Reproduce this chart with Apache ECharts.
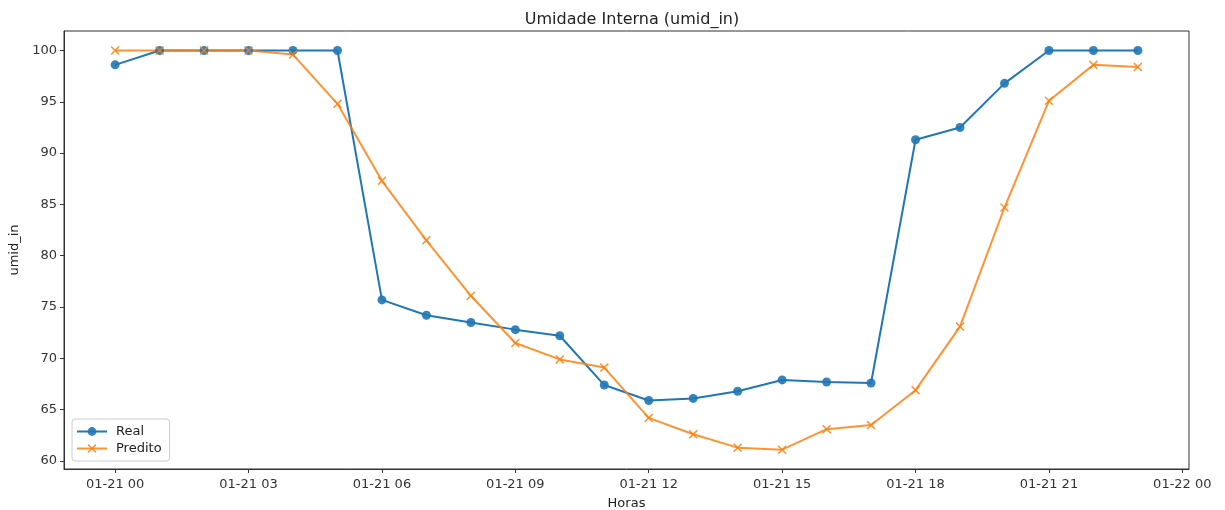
<!DOCTYPE html>
<html><head><meta charset="utf-8">
<script src="https://cdn.jsdelivr.net/npm/echarts@6/dist/echarts.min.js"></script>
<style>html,body{margin:0;padding:0;background:#fff}#c{width:1225px;height:510px}</style>
</head><body><div id="c"></div>
<script>
const hours = [0,1,2,3,4,5,6,7,8,9,10,11,12,13,14,15,16,17,18,19,20,21,22,23];
const real = [98.6,100,100,100,100,100,75.7,74.2,73.5,72.8,72.2,67.4,65.9,66.1,66.8,67.9,67.7,67.6,91.3,92.5,96.8,100,100,100];
const predito = [100,100,100,100,99.6,94.8,87.3,81.5,76.1,71.5,69.9,69.1,64.2,62.6,61.3,61.1,63.1,63.5,66.9,73.1,84.7,95.1,98.6,98.4];
const xTickValues = [0,3,6,9,12,15,18,21,24];
const xTickLabels = ['01-21 00','01-21 03','01-21 06','01-21 09','01-21 12','01-21 15','01-21 18','01-21 21','01-22 00'];
const yTickValues = [60,65,70,75,80,85,90,95,100];

const FONT = 'DejaVu Sans';
const FS = 13;
const X_PATH = 'path://M0,1.2L1.2,0L5,3.8L8.8,0L10,1.2L6.2,5L10,8.8L8.8,10L5,6.2L1.2,10L0,8.8L3.8,5Z';
const chart = echarts.init(document.getElementById('c'));
const axisCommon = {
  axisLine: {show: true, onZero: false, lineStyle: {color: '#333', width: 1}},
  splitLine: {show: false}
};
chart.setOption({
  animation: false,
  title: {text: 'Umidade Interna (umid_in)', left: 627, top: 7, textAlign: 'center',
    textStyle: {fontFamily: FONT, fontSize: 16, fontWeight: 'normal', color: '#222'}},
  grid: {left: 64, right: 36, top: 31, bottom: 41, show: true, borderColor: '#333', borderWidth: 1,
    outerBoundsMode: 'none', containLabel: false},
  legend: {
    orient: 'vertical', left: 72, top: 419, itemWidth: 30, itemHeight: 11, itemGap: 4,
    padding: [6, 8, 6, 4], borderColor: '#ccc', borderWidth: 1, borderRadius: 3,
    backgroundColor: 'rgba(255,255,255,0.8)',
    textStyle: {fontFamily: FONT, fontSize: FS, color: '#222', padding: [0, 0, 0, 4]},
    data: ['Real', 'Predito']
  },
  xAxis: Object.assign({}, axisCommon, {
    type: 'value', min: -1.15, max: 24.15,
    name: 'Horas', nameLocation: 'middle', nameGap: 28,
    nameTextStyle: {fontFamily: FONT, fontSize: FS, color: '#222'},
    axisTick: {show: true, length: 4, lineStyle: {color: '#333'}, customValues: xTickValues},
    axisLabel: {color: '#333', fontFamily: FONT, fontSize: FS, margin: 9, customValues: xTickValues,
      formatter: v => xTickLabels[xTickValues.indexOf(v)]}
  }),
  yAxis: Object.assign({}, axisCommon, {
    type: 'value', min: 59.22, max: 101.9,
    name: 'umid_in', nameLocation: 'middle', nameGap: 41,
    nameTextStyle: {fontFamily: FONT, fontSize: FS, color: '#222'},
    axisTick: {show: true, length: 4, lineStyle: {color: '#333'}, customValues: yTickValues},
    axisLabel: {color: '#333', fontFamily: FONT, fontSize: FS, margin: 7, customValues: yTickValues}
  }),
  series: [
    {name: 'Real', type: 'line', data: hours.map((h, i) => [h, real[i]]),
      symbol: 'circle', symbolSize: 9, showAllSymbol: true,
      lineStyle: {color: '#1f77b4', width: 2}, itemStyle: {color: '#1f77b4', opacity: 0.9}, color: '#1f77b4'},
    {name: 'Predito', type: 'line', data: hours.map((h, i) => [h, predito[i]]),
      symbol: X_PATH, symbolSize: 9, showAllSymbol: true,
      lineStyle: {color: '#ff7f0e', width: 2, opacity: 0.85}, itemStyle: {color: '#ff7f0e', opacity: 0.85}, color: '#ff7f0e'}
  ]
});
</script></body></html>
